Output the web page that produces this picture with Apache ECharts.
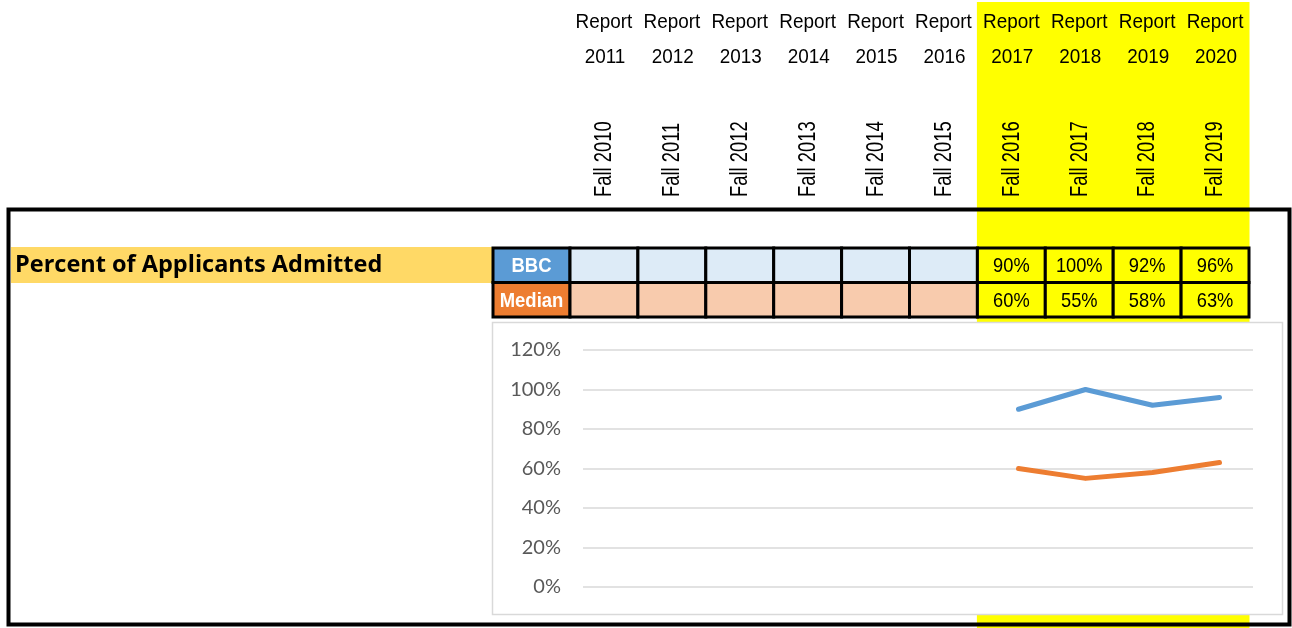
<!DOCTYPE html>
<html>
<head>
<meta charset="utf-8">
<title>Percent of Applicants Admitted</title>
<script src="https://cdn.jsdelivr.net/npm/echarts@6/dist/echarts.min.js"></script>
<style>
  html, body { margin: 0; padding: 0; background: #fff; }
  #chart { width: 1292px; height: 628px; }
</style>
</head>
<body>
<div id="chart"></div>
<script>
// 数据
const fallTerms = ['Fall 2010', 'Fall 2011', 'Fall 2012', 'Fall 2013', 'Fall 2014',
  'Fall 2015', 'Fall 2016', 'Fall 2017', 'Fall 2018', 'Fall 2019'];
const reportYears = ['2011', '2012', '2013', '2014', '2015', '2016', '2017', '2018', '2019', '2020'];
const bbcValues = [null, null, null, null, null, null, 90, 100, 92, 96];
const medianValues = [null, null, null, null, null, null, 60, 55, 58, 63];
const rowNames = ['BBC', 'Median'];

// 布局（Arial Narrow 用横向压缩的 Liberation Sans 模拟）
const sans = '"Liberation Sans", Arial, sans-serif';
const colStart = 570;
const colW = 67.9;
const labelX = 493;
const rowTop = 248;
const rowH = 34.5;
const colLeft = (i) => colStart + i * colW;
const colMid = (i) => colLeft(i) + colW / 2;
const highlighted = bbcValues.map((v, i) => v != null || medianValues[i] != null);

const graphics = [];

// 黄色高亮列
highlighted.forEach((on, i) => {
  if (!on) return;
  graphics.push({
    type: 'rect', z: 0,
    shape: { x: colLeft(i) - 0.5, y: 2, width: colW + 1, height: 626 },
    style: { fill: '#FFFF00' }
  });
});

// 表头
fallTerms.forEach((term, i) => {
  graphics.push({
    type: 'text', z: 10, x: colMid(i), y: 22, scaleX: 0.9,
    style: { text: 'Report', font: '21px ' + sans, fill: '#000', align: 'center', verticalAlign: 'middle' }
  });
  graphics.push({
    type: 'text', z: 10, x: colMid(i) + 1, y: 57, scaleX: 0.9,
    style: { text: reportYears[i], font: '21px ' + sans, fill: '#000', align: 'center', verticalAlign: 'middle' }
  });
  graphics.push({
    type: 'text', z: 10, x: colMid(i) + 1, y: 197, rotation: Math.PI / 2, scaleX: 0.8,
    style: { text: term, font: '23px ' + sans, fill: '#000', align: 'left', verticalAlign: 'middle' }
  });
});

// 标题条
graphics.push({
  type: 'rect', z: 1,
  shape: { x: 11, y: 247, width: 482, height: 36 },
  style: { fill: '#FFD966' }
});
graphics.push({
  type: 'text', z: 10, x: 15, y: 265,
  style: { text: 'Percent of Applicants Admitted', font: 'bold 23.5px "Open Sans", Lato, sans-serif', fill: '#000', verticalAlign: 'middle' }
});

// 数据表
[bbcValues, medianValues].forEach((vals, r) => {
  const y = rowTop + r * rowH;
  const labelFill = r === 0 ? '#5B9BD5' : '#ED7D31';
  const emptyFill = r === 0 ? '#DDEBF7' : '#F8CBAD';
  graphics.push({
    type: 'rect', z: 3,
    shape: { x: labelX, y: y, width: colStart - labelX, height: rowH },
    style: { fill: labelFill, stroke: '#000', lineWidth: 3 }
  });
  graphics.push({
    type: 'text', z: 10, x: (labelX + colStart) / 2, y: y + rowH / 2 + 1, scaleX: 0.88,
    style: { text: rowNames[r], font: 'bold 21px ' + sans, fill: '#fff', align: 'center', verticalAlign: 'middle' }
  });
  vals.forEach((v, i) => {
    graphics.push({
      type: 'rect', z: 3,
      shape: { x: colLeft(i), y: y, width: colW, height: rowH },
      style: { fill: highlighted[i] ? '#FFFF00' : emptyFill, stroke: '#000', lineWidth: 3 }
    });
    if (v != null) {
      graphics.push({
        type: 'text', z: 10, x: colMid(i), y: y + rowH / 2 + 1, scaleX: 0.87,
        style: { text: v + '%', font: '21px ' + sans, fill: '#000', align: 'center', verticalAlign: 'middle' }
      });
    }
  });
});

// 图表框
graphics.push({
  type: 'rect', z: 2,
  shape: { x: 492.5, y: 322.5, width: 790, height: 292 },
  style: { fill: '#fff', stroke: '#D9D9D9', lineWidth: 1.5 }
});

// 外框
graphics.push({
  type: 'rect', z: 20,
  shape: { x: 8.5, y: 209.5, width: 1281, height: 415 },
  style: { fill: null, stroke: '#000', lineWidth: 4 }
});

const chart = echarts.init(document.getElementById('chart'));
chart.setOption({
  animation: false,
  backgroundColor: '#fff',
  graphic: { elements: graphics },
  grid: { left: 583, right: 39, top: 350, bottom: 41 },
  xAxis: {
    type: 'category',
    data: fallTerms,
    boundaryGap: true,
    axisLine: { show: false },
    axisTick: { show: false },
    axisLabel: { show: false }
  },
  yAxis: {
    type: 'value',
    min: 0, max: 120, interval: 20,
    z: 5,
    axisLabel: { formatter: '{value}%', color: '#595959', fontSize: 20, fontFamily: 'Lato, "Noto Sans", sans-serif', margin: 22 },
    axisLine: { show: false },
    axisTick: { show: false },
    splitLine: { lineStyle: { color: '#D9D9D9', width: 1.5 } }
  },
  series: [
    {
      name: 'BBC', type: 'line', data: bbcValues, z: 6,
      symbol: 'none', lineStyle: { color: '#5B9BD5', width: 5, cap: 'round', join: 'round' }
    },
    {
      name: 'Median', type: 'line', data: medianValues, z: 6,
      symbol: 'none', lineStyle: { color: '#ED7D31', width: 5, cap: 'round', join: 'round' }
    }
  ]
});
</script>
</body>
</html>
